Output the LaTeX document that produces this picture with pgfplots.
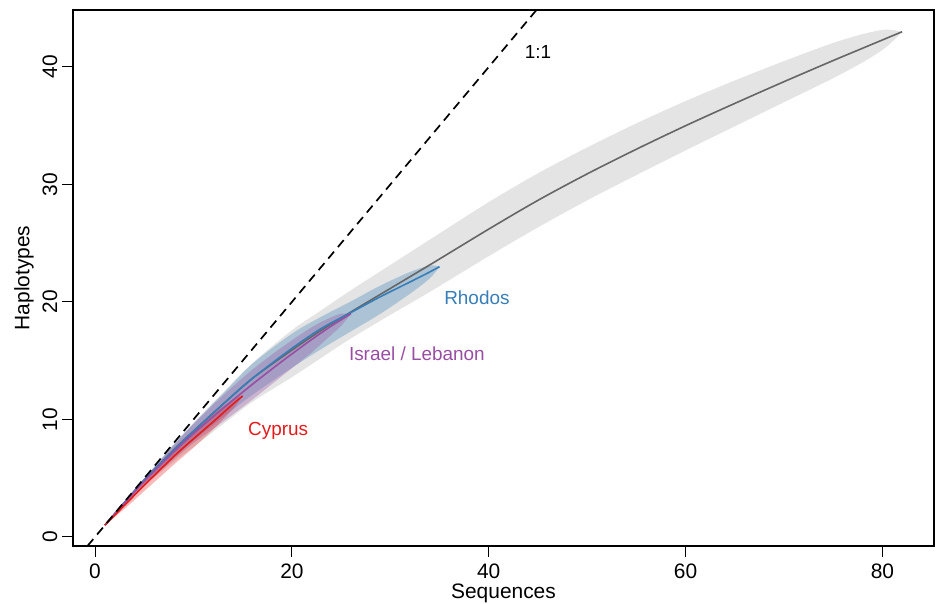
\documentclass[border=0pt]{standalone}
\usepackage{pgfplots}
\pgfplotsset{compat=1.18}
\usepgfplotslibrary{fillbetween}
\usepackage{fontspec}
\setmainfont{Liberation Sans}

\definecolor{cyp}{HTML}{E41A1C}
\definecolor{rho}{HTML}{377EB8}
\definecolor{isr}{HTML}{984EA3}
\definecolor{bandgray}{HTML}{E4E4E4}
\definecolor{linegray}{HTML}{666666}

% x = sequences, y = haplotypes, lo/hi = band
\pgfplotstableread{
x y lo hi
1 1.00 1.00 1.00
2 1.98 1.94 2.00
3 2.95 2.85 3.00
5 4.85 4.35 4.98
8 7.40 6.40 7.90
10 9.00 7.65 9.70
13 11.30 9.60 12.30
16 13.50 11.50 14.80
20 15.90 13.60 17.60
23 17.60 15.25 19.30
26 19.15 16.90 21.00
30 21.15 18.90 23.15
34 23.15 20.85 25.30
40 26.20 23.90 28.50
45 28.65 26.35 30.95
50 30.90 28.65 33.15
55 33.00 30.80 35.20
60 35.00 32.90 37.10
65 36.90 34.95 38.85
70 38.75 37.00 40.50
75 40.55 39.05 42.05
78 41.60 40.40 42.80
80 42.30 41.45 43.15
81 42.65 42.15 43.15
82 43.00 43.00 43.00
}\alltab

\pgfplotstableread{
x y lo hi
1 1.00 1.00 1.00
3 2.95 2.85 3.00
5 4.85 4.55 4.98
8 7.40 6.75 7.85
10 9.00 8.20 9.65
13 11.30 10.20 12.20
16 13.50 12.10 14.75
20 16.05 14.40 17.30
23 17.75 16.00 18.75
26 19.10 17.50 20.05
29 20.45 19.00 21.40
32 21.70 20.70 22.55
34 22.55 22.00 23.10
35 23.00 23.00 23.00
}\rhotab

\pgfplotstableread{
x y lo hi
1 1.00 1.00 1.00
3 2.90 2.75 2.98
5 4.75 4.40 4.95
8 7.25 6.60 7.80
10 8.80 8.00 9.60
13 10.95 9.80 12.05
16 13.00 11.70 14.25
19 14.95 13.70 16.15
22 16.80 15.70 17.85
24 17.95 17.20 18.70
25 18.48 17.95 19.00
26 19.00 19.00 19.00
}\isrtab

\pgfplotstableread{
x y lo hi
1 1.00 1.00 1.00
3 2.70 2.40 3.00
5 4.40 3.90 4.90
8 6.85 6.15 7.55
10 8.35 7.60 9.10
12 9.80 9.15 10.45
14 11.30 10.90 11.70
15 12.00 12.00 12.00
}\cyptab

\begin{document}
\begin{tikzpicture}
\begin{axis}[
  scale only axis, width=861bp, height=536bp,
  xmin=-2.24, xmax=85.24, ymin=-0.77, ymax=44.85,
  axis line style={line width=1.1bp},
  xtick={0,20,40,60,80}, ytick={0,10,20,30,40},
  xtick pos=bottom, ytick pos=left, tick align=outside,
  major tick length=11bp, tick style={line width=1bp, black},
  font=\fontsize{21}{24}\selectfont,
  /pgf/number format/assume math mode=true,
  xticklabel style={anchor=center, yshift=-14bp},
  yticklabel style={rotate=90, anchor=center, yshift=12bp},
  xlabel={Sequences}, ylabel={Haplotypes},
  xlabel style={at={(axis description cs:0.5,0)}, anchor=center, yshift=-47bp},
  ylabel style={at={(axis description cs:0,0.5)}, anchor=center, yshift=49bp},
  clip=true,
]
% all regions
\addplot[name path=au, draw=none, smooth] table[x=x, y=hi] {\alltab};
\addplot[name path=al, draw=none, smooth] table[x=x, y=lo] {\alltab};
\addplot[bandgray] fill between[of=au and al];
\addplot[linegray, line width=1.6bp, smooth] table[x=x, y=y] {\alltab};
% Rhodos
\addplot[name path=ru, draw=none, smooth] table[x=x, y=hi] {\rhotab};
\addplot[name path=rl, draw=none, smooth] table[x=x, y=lo] {\rhotab};
\addplot[rho, fill opacity=0.32] fill between[of=ru and rl];
\addplot[rho, line width=1.6bp, smooth] table[x=x, y=y] {\rhotab};
% Israel / Lebanon
\addplot[name path=iu, draw=none, smooth] table[x=x, y=hi] {\isrtab};
\addplot[name path=il, draw=none, smooth] table[x=x, y=lo] {\isrtab};
\addplot[isr, fill opacity=0.32] fill between[of=iu and il];
\addplot[isr, line width=1.6bp, smooth] table[x=x, y=y] {\isrtab};
% Cyprus
\addplot[name path=cu, draw=none, smooth] table[x=x, y=hi] {\cyptab};
\addplot[name path=cl, draw=none, smooth] table[x=x, y=lo] {\cyptab};
\addplot[cyp, fill opacity=0.3] fill between[of=cu and cl];
\addplot[cyp, line width=1.6bp, smooth] table[x=x, y=y] {\cyptab};
% 1:1 line
\addplot[black, line width=1.7bp, dash pattern=on 9bp off 6bp] coordinates {(-0.77,-0.77) (44.85,44.85)};

\node[font=\fontsize{19}{22}\selectfont] at (axis cs:45.0,41.3) {1:1};
\node[font=\fontsize{19}{22}\selectfont, text=rho] at (axis cs:38.8,20.4) {Rhodos};
\node[font=\fontsize{19}{22}\selectfont, text=isr] at (axis cs:32.7,15.6) {Israel / Lebanon};
\node[font=\fontsize{19}{22}\selectfont, text=cyp] at (axis cs:18.6,9.0) {Cyprus};
\end{axis}
\pgfresetboundingbox
\path (-73bp,-58bp) rectangle (867bp,546bp);
\end{tikzpicture}
\end{document}
